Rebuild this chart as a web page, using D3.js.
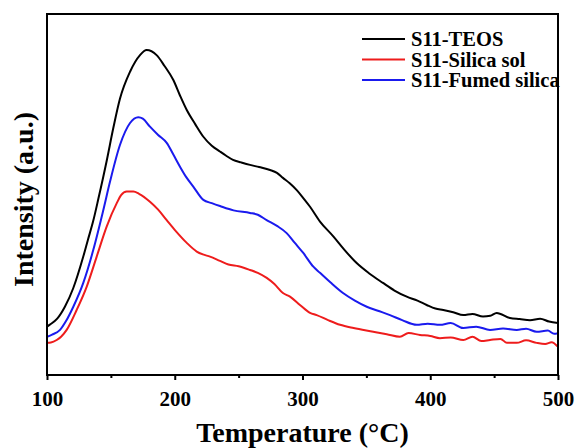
<!DOCTYPE html>
<html>
<head>
<meta charset="utf-8">
<script src="https://cdn.jsdelivr.net/npm/d3@7"></script>
<style>
  html, body { margin: 0; padding: 0; background: #fff; }
  svg { display: block; }
  text { font-family: "Liberation Serif", "Times New Roman", serif; font-weight: bold; fill: #000; }
</style>
</head>
<body>
<svg id="chart" width="576" height="448"></svg>
<script>
// ---- Data ----
const seriesNames = ["S11-TEOS", "S11-Silica sol", "S11-Fumed silica"];
const seriesColors = ["#000000", "#ee1c1c", "#1a1aee"];

const teosT = [100, 102, 108, 114, 120.6, 128.4, 132, 136.2, 140.2, 146.7, 151.9, 157.1, 165, 172.8, 178, 185.8, 192, 198.9, 204, 209.4, 216, 222.4, 229, 235.4, 240, 245.6, 252, 258.9, 266, 274.6, 280, 284.7, 290, 295.5, 300, 305.9, 313.7, 324.1, 333, 342.4, 352, 363, 372, 381.6, 390, 397.2, 404, 410.2, 418, 425.9, 433, 441.3, 447, 452, 462.4, 470, 478.1, 486, 493, 500];
const teosI = [13.4, 13.9, 15.6, 18.9, 24.1, 32.8, 37.4, 42.7, 48.8, 59.3, 68.4, 76.5, 84.0, 88.6, 90.0, 88.6, 85.6, 81.7, 77.5, 73.4, 69.5, 66.0, 63.5, 61.9, 60.8, 59.6, 58.9, 58.2, 57.6, 56.8, 56.0, 54.6, 53.1, 51.2, 49.3, 46.6, 42.5, 38.4, 34.6, 31.0, 28.2, 25.5, 23.4, 21.7, 20.6, 19.4, 18.4, 18.0, 17.4, 16.6, 16.9, 16.2, 16.4, 17.2, 15.8, 15.5, 15.2, 15.6, 14.8, 14.4];

const solT = [100, 103, 107.6, 111, 115.4, 123.2, 131.1, 138.9, 146.7, 154.6, 158, 162.4, 167.6, 172, 180.6, 187, 193.7, 201, 209.4, 217.2, 222, 227.6, 235.4, 242, 250, 258.9, 265, 272, 278, 284.7, 290.2, 298, 305.9, 311.1, 320, 329.4, 340, 355.4, 366, 376.3, 383, 392, 400, 407.6, 416, 425.9, 433, 440, 446.8, 455, 460, 467.7, 475, 483.3, 490, 495, 500];
const solI = [8.9, 9.0, 9.7, 10.6, 12.5, 18.0, 24.5, 32.8, 41.1, 47.6, 49.8, 50.8, 50.8, 50.2, 48.0, 45.8, 42.9, 39.8, 36.6, 34.2, 33.4, 32.8, 31.6, 30.6, 30.1, 29.1, 28.3, 26.9, 25.2, 22.7, 21.7, 19.4, 17.2, 16.6, 15.2, 13.9, 13.0, 12.0, 11.3, 10.6, 11.6, 11.1, 10.8, 10.2, 10.4, 9.7, 10.6, 9.4, 9.7, 10.0, 8.9, 8.9, 9.6, 8.9, 8.6, 9.1, 7.8];

const fumedT = [100, 104, 110.2, 115, 120.6, 128.4, 136.2, 144.1, 149.3, 157.1, 165, 171.5, 175, 180.6, 187, 193.7, 199, 204.1, 209, 214.5, 222.4, 229, 235.4, 246, 258.9, 265, 271.9, 280, 287.6, 294, 300.6, 308.5, 313.7, 322, 331.7, 341, 350.3, 359, 368.5, 378, 389.4, 398, 407.6, 416, 425.9, 436, 446.8, 457, 467.7, 475, 483.3, 492, 497, 500];
const fumedI = [10.6, 11.2, 12.5, 15.0, 18.9, 25.5, 34.6, 45.7, 53.5, 63.7, 69.8, 71.4, 71.0, 68.8, 66.5, 64.3, 61.0, 57.7, 54.8, 52.2, 48.5, 47.6, 46.8, 45.6, 44.9, 44.4, 42.9, 41.3, 39.3, 36.6, 33.8, 30.0, 28.3, 25.6, 22.7, 20.6, 18.9, 17.8, 16.6, 15.2, 13.9, 14.2, 13.9, 14.4, 13.0, 13.4, 12.5, 12.9, 12.5, 12.8, 12.0, 12.3, 11.4, 11.6];

const xTicks = [100, 200, 300, 400, 500];
const xMinorTicks = [150, 250, 350, 450];
const xLabel = "Temperature (\u00B0C)";
const yLabel = "Intensity (a.u.)";

// ---- Layout ----
const svg = d3.select("#chart");
const L = 47, R = 558, T = 14, B = 375;

const x = d3.scaleLinear().domain([100, 500]).range([L, R]);
const y = d3.scaleLinear().domain([0, 100]).range([B, T]);

const series = [
  { name: seriesNames[0], color: seriesColors[0], t: teosT, v: teosI },
  { name: seriesNames[1], color: seriesColors[1], t: solT, v: solI },
  { name: seriesNames[2], color: seriesColors[2], t: fumedT, v: fumedI }
];

const line = d3.line()
  .x(d => x(d[0]))
  .y(d => y(d[1]))
  .curve(d3.curveMonotoneX);

svg.append("defs").append("clipPath").attr("id", "plotclip")
  .append("rect").attr("x", L).attr("y", T).attr("width", R - L).attr("height", B - T);

const g = svg.append("g").attr("clip-path", "url(#plotclip)");
// draw order: red, blue, black
[1, 2, 0].forEach(i => {
  const s = series[i];
  g.append("path")
    .datum(s.t.map((t, k) => [t, s.v[k]]))
    .attr("fill", "none")
    .attr("stroke", s.color)
    .attr("stroke-width", 2)
    .attr("stroke-linejoin", "round")
    .attr("d", line);
});

// frame
svg.append("rect")
  .attr("x", L).attr("y", T).attr("width", R - L).attr("height", B - T)
  .attr("fill", "none").attr("stroke", "#000").attr("stroke-width", 2);

// bottom axis
const xAxis = d3.axisBottom(x).tickValues(xTicks).tickSize(5).tickPadding(11).tickFormat(d3.format("d"));
const ax = svg.append("g").attr("transform", `translate(0,${B})`).call(xAxis);
ax.select(".domain").remove();
ax.selectAll(".tick line").attr("stroke", "#000").attr("stroke-width", 2);
ax.selectAll(".tick text").attr("font-size", 21).attr("font-family", "Liberation Serif").attr("font-weight", "bold").attr("fill", "#000");

const axMinor = d3.axisBottom(x).tickValues(xMinorTicks).tickSize(3).tickFormat("");
const am = svg.append("g").attr("transform", `translate(0,${B})`).call(axMinor);
am.select(".domain").remove();
am.selectAll(".tick line").attr("stroke", "#000").attr("stroke-width", 2);

// axis titles
svg.append("text")
  .attr("x", (L + R) / 2).attr("y", 442)
  .attr("text-anchor", "middle").attr("font-size", 28)
  .text(xLabel);

svg.append("text")
  .attr("transform", `translate(33,${(T + B) / 2 + 5}) rotate(-90)`)
  .attr("text-anchor", "middle").attr("font-size", 28)
  .text(yLabel);

// legend
const legRows = [0, 1, 2];
legRows.forEach((i, k) => {
  const s = series[i];
  const cy = 39 + k * 20.5;
  svg.append("line")
    .attr("x1", 362).attr("x2", 405).attr("y1", cy).attr("y2", cy)
    .attr("stroke", s.color).attr("stroke-width", 2);
  svg.append("text")
    .attr("x", 411).attr("y", cy + 7)
    .attr("font-size", 20.5)
    .text(s.name);
});
</script>
</body>
</html>
